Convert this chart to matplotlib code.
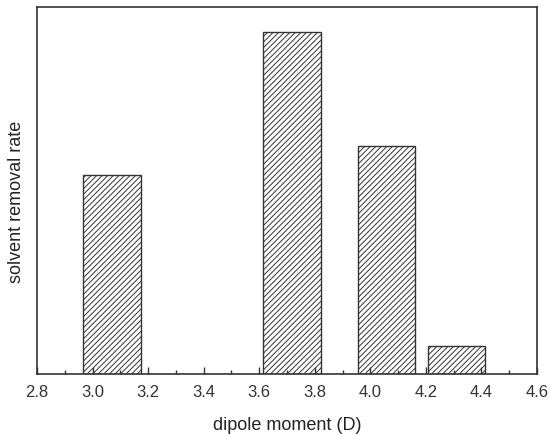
import matplotlib
matplotlib.use('Agg')
import matplotlib.pyplot as plt
from matplotlib.ticker import MultipleLocator

plt.rcParams['font.family'] = ['Liberation Sans', 'DejaVu Sans']
plt.rcParams['hatch.linewidth'] = 0.7
plt.rcParams['hatch.color'] = '#444444'

# bar centres (dipole moment, D) and relative removal rates
dipole = [3.07, 3.718, 4.058, 4.31]
rate = [0.542, 0.932, 0.621, 0.076]
bar_width = 0.208

fig = plt.figure(figsize=(5.5, 4.34), dpi=100)
ax = fig.add_axes([0.0673, 0.138, 0.909, 0.846])

ax.bar(dipole, rate, width=bar_width, color='white', edgecolor='#333333',
       linewidth=1.0, hatch='//////')

ax.set_xlim(2.8, 4.6)
ax.set_ylim(0, 1)
ax.xaxis.set_major_locator(MultipleLocator(0.2))
ax.xaxis.set_minor_locator(MultipleLocator(0.1))
ax.tick_params(axis='x', which='both', direction='in', labelsize=12, colors='#333333', pad=8)
ax.tick_params(axis='x', which='major', length=5, width=1)
ax.tick_params(axis='x', which='minor', length=3, width=1)
ax.set_xticklabels([f'{v:.1f}' for v in ax.get_xticks()])
ax.set_yticks([])
for s in ax.spines.values():
    s.set_linewidth(1.2)
    s.set_color('#333333')

ax.set_xlabel('dipole moment (D)', fontsize=13, color='#222222', labelpad=12)
ax.set_ylabel('solvent removal rate', fontsize=13, color='#222222')
ax.yaxis.set_label_coords(-0.024, 0.47)

fig.savefig('out.png', dpi=100)
